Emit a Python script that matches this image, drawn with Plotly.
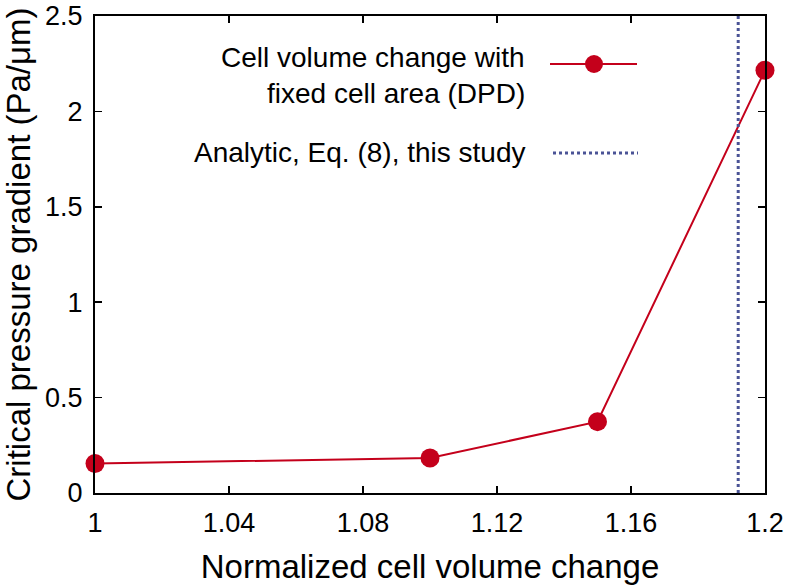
import plotly.graph_objects as go

# Data
volume_change = [1.0, 1.1, 1.15, 1.2]
critical_gradient = [0.155, 0.183, 0.374, 2.216]
analytic_x = 1.192
y_range = [0, 2.5]
x_ticks = [1.0, 1.04, 1.08, 1.12, 1.16, 1.2]
x_tick_labels = ["1", "1.04", "1.08", "1.12", "1.16", "1.2"]
y_ticks = [0, 0.5, 1, 1.5, 2, 2.5]
y_tick_labels = ["0", "0.5", "1", "1.5", "2", "2.5"]
legend_lines = ["Cell volume change with", "fixed cell area (DPD)", "Analytic, Eq. (8), this study"]

RED = "#c4001b"
BLUE = "#4a5396"
FONT = "Liberation Sans, Arial, sans-serif"
FS_TICK = 27
FS_LEG = 28
FS_TITLE = 33

W, H = 793, 588
L, R, T, B = 95, 28, 16, 95
pw, ph = W - L - R, H - T - B

def px(x):
    return (x - L) / pw

def py(y):
    return (H - B - y) / ph

fig = go.Figure()
fig.add_trace(go.Scatter(
    x=volume_change, y=critical_gradient, mode="lines+markers",
    line=dict(color=RED, width=2), marker=dict(color=RED, size=19),
    cliponaxis=False, showlegend=False, hoverinfo="skip"))
fig.add_trace(go.Scatter(
    x=[analytic_x, analytic_x], y=y_range, mode="lines",
    line=dict(color=BLUE, width=3, dash="dot"), showlegend=False, hoverinfo="skip"))

# Manual legend (symbol on the right of the text, as in the reference)
for text, yc in zip(legend_lines, [57, 93, 152]):
    fig.add_annotation(xref="paper", yref="paper", x=px(527), y=py(yc), text=text,
                       showarrow=False, xanchor="right", yanchor="middle",
                       font=dict(size=FS_LEG, color="black", family=FONT))
fig.add_shape(type="line", xref="paper", yref="paper", x0=px(550), x1=px(637), y0=py(64), y1=py(64),
              line=dict(color=RED, width=2))
fig.add_shape(type="circle", xref="paper", yref="paper", x0=px(585), x1=px(603), y0=py(55), y1=py(73),
              line=dict(color=RED, width=0), fillcolor=RED)
fig.add_shape(type="line", xref="paper", yref="paper", x0=px(553), x1=px(638), y0=py(153), y1=py(153),
              line=dict(color=BLUE, width=3, dash="dot"))

axis_common = dict(showline=True, linecolor="black", linewidth=2, mirror="ticks", ticks="inside",
                   ticklen=7, tickwidth=1.5, tickcolor="black", showgrid=False, zeroline=False,
                   automargin=False, tickfont=dict(size=FS_TICK, color="black", family=FONT))

fig.update_xaxes(range=[1.0, 1.2], tickvals=x_ticks, ticktext=x_tick_labels,
                 title=dict(text="Normalized cell volume change", font=dict(size=FS_TITLE, color="black", family=FONT), standoff=17),
                 ticklabelstandoff=5, **axis_common)
fig.update_yaxes(range=y_range, tickvals=y_ticks, ticktext=y_tick_labels,
                 title=dict(text="Critical pressure gradient (Pa/μm)", font=dict(size=FS_TITLE, color="black", family=FONT), standoff=6),
                 ticklabelstandoff=5, **axis_common)

fig.update_layout(width=W, height=H, margin=dict(l=L, r=R, t=T, b=B),
                  plot_bgcolor="white", paper_bgcolor="white", font=dict(family=FONT),
                  hovermode=False)

fig.write_html("out.html", config={"displayModeBar": False, "staticPlot": True},
               post_script="document.body.style.margin='0';document.body.style.overflow='hidden';")
